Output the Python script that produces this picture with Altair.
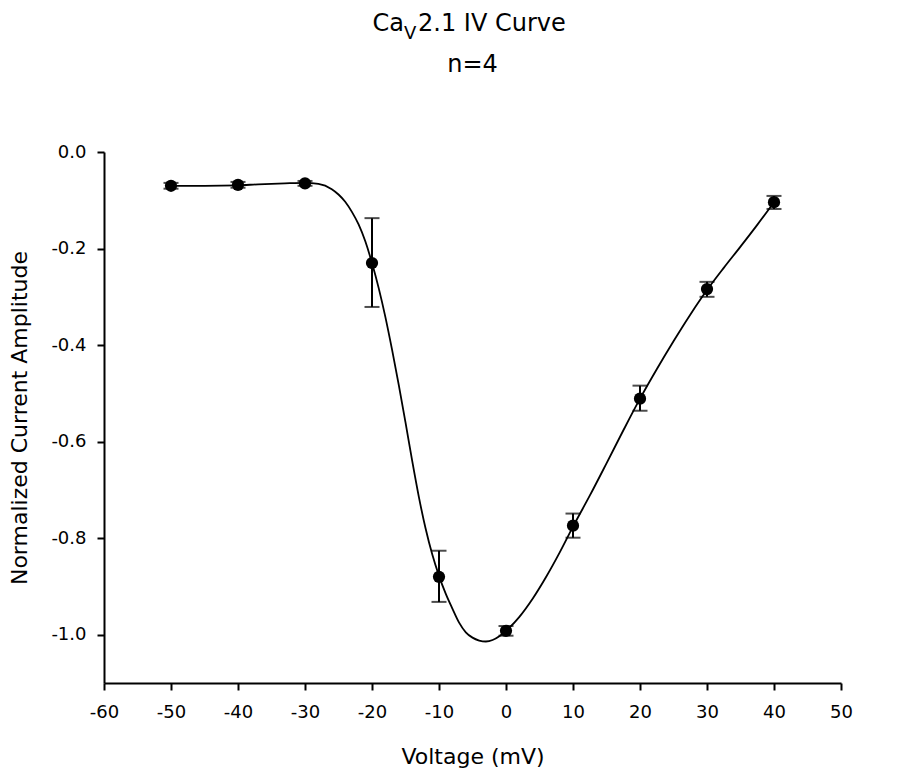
import altair as alt
import pandas as pd

# Data points (mean +/- error)
volt = [-50, -40, -30, -20, -10, 0, 10, 20, 30, 40]
mean = [-0.070, -0.068, -0.065, -0.230, -0.880, -0.992, -0.774, -0.511, -0.284, -0.104]
err_hi = [-0.064, -0.062, -0.060, -0.137, -0.826, -0.982, -0.749, -0.484, -0.269, -0.091]
err_lo = [-0.076, -0.074, -0.070, -0.321, -0.932, -1.002, -0.799, -0.536, -0.300, -0.118]

# Fitted curve
fit_v = [-50, -45, -40, -37, -33, -30, -28, -26, -25, -24, -23, -22, -21, -20, -19, -18,
         -17, -16, -15, -14, -13, -12, -11, -10, -9, -8, -7, -6, -5, -4, -3, -2, -1, 0,
         2, 4, 6, 8, 10, 12.5, 15, 17.5, 20, 22.5, 25, 27.5, 30, 32.5, 35, 37.5, 40]
fit_i = [-0.070, -0.070, -0.069, -0.067, -0.065, -0.064, -0.066, -0.077, -0.088, -0.103,
         -0.124, -0.150, -0.185, -0.230, -0.282, -0.342, -0.410, -0.483, -0.560, -0.640,
         -0.715, -0.780, -0.834, -0.878, -0.915, -0.946, -0.975, -0.995, -1.006, -1.012,
         -1.014, -1.011, -1.003, -0.992, -0.963, -0.925, -0.880, -0.830, -0.776, -0.712,
         -0.645, -0.577, -0.511, -0.450, -0.392, -0.337, -0.286, -0.240, -0.196, -0.151,
         -0.104]

x_ticks = [-60, -50, -40, -30, -20, -10, 0, 10, 20, 30, 40, 50]
y_ticks = [0.0, -0.2, -0.4, -0.6, -0.8, -1.0]

pts = pd.DataFrame({"v": volt, "m": mean, "hi": err_hi, "lo": err_lo})
fit = pd.DataFrame({"v": fit_v, "i": fit_i})
titles = pd.DataFrame({"t": ["Ca", "V", "2.1 IV Curve", "n=4"]})

FONT = "DejaVu Sans"
fix_minus = "replace(datum.label, '\u2212', '-')"

xscale = alt.Scale(domain=[-60, 50], nice=False, zero=False)
yscale = alt.Scale(domain=[-1.1, 0], nice=False, zero=False)

xaxis = alt.Axis(values=x_ticks, title="Voltage (mV)", labelExpr=fix_minus, labelFlush=False,
                 titleBaseline="alphabetic", titleY=80)
yaxis = alt.Axis(values=y_ticks, format=".1f", title="Normalized Current Amplitude",
                 labelExpr=fix_minus, labelFlush=False,
                 titleBaseline="alphabetic", titleX=-78, titleY=265.5)

line = alt.Chart(fit).mark_line(color="black", strokeWidth=1.8, interpolate="monotone").encode(
    x=alt.X("v:Q", scale=xscale, axis=xaxis),
    y=alt.Y("i:Q", scale=yscale, axis=yaxis),
)

bars = alt.Chart(pts).mark_rule(color="black", strokeWidth=2).encode(
    x="v:Q", y="hi:Q", y2="lo:Q"
)
cap_hi = alt.Chart(pts).mark_tick(color="black", orient="horizontal", size=15, thickness=2).encode(
    x="v:Q", y="hi:Q"
)
cap_lo = alt.Chart(pts).mark_tick(color="black", orient="horizontal", size=15, thickness=2).encode(
    x="v:Q", y="lo:Q"
)
dots = alt.Chart(pts).mark_point(filled=True, color="black", opacity=1, size=150, shape="circle").encode(
    x="v:Q", y="m:Q"
)

def ttext(i, x, y, size, align):
    return alt.Chart(titles).transform_filter(
        alt.datum.t == titles["t"][i]
    ).mark_text(font=FONT, fontSize=size, align=align, baseline="alphabetic", color="black").encode(
        text="t:N", x=alt.value(x), y=alt.value(y)
    )

t1 = ttext(0, 300, -121, 24, "right")
t2 = ttext(1, 300, -113, 18, "left")
t3 = ttext(2, 314, -121, 24, "left")
t4 = ttext(3, 368.5, -80, 24, "center")

chart = alt.layer(line, bars, cap_hi, cap_lo, dots, t1, t2, t3, t4).properties(
    width=737, height=531,
    autosize=alt.AutoSizeParams(type="none"),
    padding={"left": 96, "top": 144, "right": 60, "bottom": 90},
).configure_view(stroke=None).configure_axis(
    grid=False, domainColor="black", domainWidth=2, tickColor="black", tickWidth=2,
    tickSize=7, labelFont=FONT, labelFontSize=18, labelColor="black", labelPadding=11,
    titleFont=FONT, titleFontSize=22, titleFontWeight="normal", titleColor="black",
).configure_axisX(labelPadding=13)

chart.save("out.html", embed_options={"renderer": "svg", "actions": False})
